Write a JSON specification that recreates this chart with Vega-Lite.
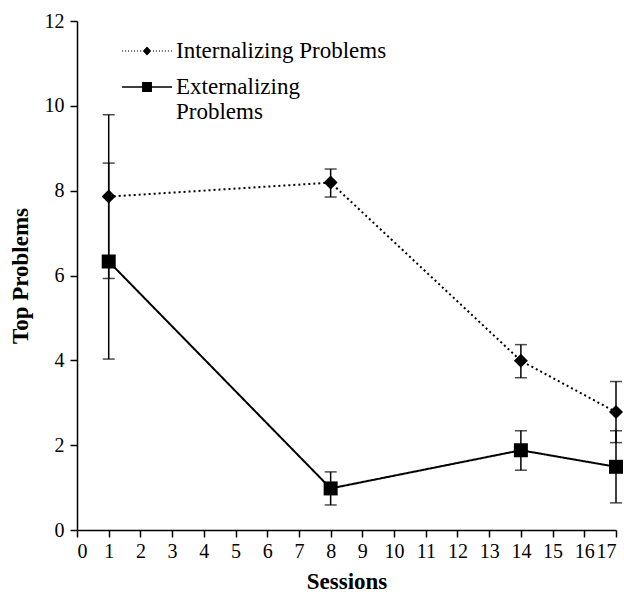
{
  "$schema": "https://vega.github.io/schema/vega-lite/v6.json",
  "width": 539,
  "height": 509,
  "autosize": {"type": "none"},
  "padding": {"left": 77, "top": 21, "right": 8, "bottom": 66},
  "background": "white",
  "config": {
    "view": {"stroke": null},
    "font": "Liberation Serif",
    "axis": {
      "grid": false,
      "domainColor": "black",
      "domainWidth": 1.5,
      "tickColor": "black",
      "tickWidth": 1.5,
      "tickSize": 7,
      "labelColor": "black",
      "labelFont": "Liberation Serif",
      "labelFontSize": 20,
      "labelOverlap": false,
      "titleColor": "black",
      "titleFont": "Liberation Serif",
      "titleFontSize": 23,
      "titleFontWeight": "bold"
    }
  },
  "data": {
    "values": [
      {"session": 1, "group": "Internalizing Problems", "mean": 7.86, "lo": 5.93, "hi": 9.79},
      {"session": 8, "group": "Internalizing Problems", "mean": 8.19, "lo": 7.85, "hi": 8.51},
      {"session": 14, "group": "Internalizing Problems", "mean": 3.99, "lo": 3.59, "hi": 4.37},
      {"session": 17, "group": "Internalizing Problems", "mean": 2.78, "lo": 2.06, "hi": 3.5},
      {"session": 1, "group": "Externalizing Problems", "mean": 6.33, "lo": 4.03, "hi": 8.65},
      {"session": 8, "group": "Externalizing Problems", "mean": 0.98, "lo": 0.59, "hi": 1.37},
      {"session": 14, "group": "Externalizing Problems", "mean": 1.88, "lo": 1.41, "hi": 2.34},
      {"session": 17, "group": "Externalizing Problems", "mean": 1.49, "lo": 0.64, "hi": 2.34}
    ]
  },
  "encoding": {
    "x": {"field": "session", "type": "quantitative", "title": "Sessions",
          "scale": {"domain": [0, 17], "nice": false},
          "axis": {"values": [0,1,2,3,4,5,6,7,8,9,10,11,12,13,14,15,16,17], "tickCount": 18, "format": "d", "labelPadding": 4, "titlePadding": 9}}
  },
  "layer": [
    {
      "mark": {"type": "line", "color": "black", "strokeWidth": 2},
      "encoding": {
        "y": {"field": "mean", "type": "quantitative", "title": "Top Problems",
              "scale": {"domain": [0, 12], "nice": false},
              "axis": {"values": [0,2,4,6,8,10,12], "tickCount": 7, "format": "d", "labelPadding": 6, "titlePadding": 12}},
        "detail": {"field": "group", "type": "nominal"},
        "strokeDash": {"condition": {"test": "datum.group == 'Internalizing Problems'", "value": [2, 3]}, "value": [1, 0]}
      }
    },
    {
      "mark": {"type": "rule", "color": "black", "strokeWidth": 1.5},
      "encoding": {
        "y": {"field": "lo", "type": "quantitative", "title": "Top Problems"},
        "y2": {"field": "hi"}
      }
    },
    {
      "mark": {"type": "tick", "color": "black", "thickness": 1.5, "size": 12, "orient": "horizontal"},
      "encoding": {
        "y": {"field": "lo", "type": "quantitative", "title": "Top Problems"}
      }
    },
    {
      "mark": {"type": "tick", "color": "black", "thickness": 1.5, "size": 12, "orient": "horizontal"},
      "encoding": {
        "y": {"field": "hi", "type": "quantitative", "title": "Top Problems"}
      }
    },
    {
      "mark": {"type": "point", "filled": true, "color": "black", "opacity": 1, "size": 196},
      "encoding": {
        "y": {"field": "mean", "type": "quantitative", "title": "Top Problems"},
        "shape": {"condition": {"test": "datum.group == 'Internalizing Problems'", "value": "diamond"}, "value": "square"}
      }
    },
    {
      "transform": [{"filter": "false"}],
      "mark": {"type": "point", "filled": true, "color": "black", "opacity": 1},
      "encoding": {
        "y": {"field": "mean", "type": "quantitative", "title": "Top Problems"},
        "shape": {"field": "group", "type": "nominal",
                  "scale": {"domain": ["Internalizing Problems", "Externalizing Problems"],
                            "range": [
                              "M-1.67,-0.04h0.08v0.08h-0.08Z M-1.47,-0.04h0.08v0.08h-0.08Z M-1.27,-0.04h0.08v0.08h-0.08Z M-1.07,-0.04h0.08v0.08h-0.08Z M-0.87,-0.04h0.08v0.08h-0.08Z M-0.67,-0.04h0.08v0.08h-0.08Z M-0.47,-0.04h0.08v0.08h-0.08Z M0.39,-0.04h0.08v0.08h-0.08Z M0.59,-0.04h0.08v0.08h-0.08Z M0.79,-0.04h0.08v0.08h-0.08Z M0.99,-0.04h0.08v0.08h-0.08Z M1.19,-0.04h0.08v0.08h-0.08Z M1.39,-0.04h0.08v0.08h-0.08Z M1.59,-0.04h0.08v0.08h-0.08Z M0,-0.3L0.28,0L0,0.3L-0.28,0Z",
                              "M-1.67,-0.05H1.67V0.05H-1.67Z M-0.33,-0.33L0.33,-0.33L0.33,0.33L-0.33,0.33Z"
                            ]},
                  "legend": {
                    "title": null,
                    "orient": "none",
                    "legendX": 54,
                    "legendY": 14,
                    "padding": 0,
                    "symbolSize": 900,
                    "labelFont": "Liberation Serif",
                    "labelFontSize": 23,
                    "labelColor": "black",
                    "labelOffset": 13,
                    "labelLimit": 400,
                    "rowPadding": 8,
                    "symbolFillColor": "black",
                    "symbolStrokeColor": "black",
                    "symbolOpacity": 1,
                    "labelExpr": "datum.label == 'Externalizing Problems' ? ['Externalizing', 'Problems'] : datum.label",
                    "encode": {"labels": {"lineHeight": {"value": 27}}}
                  }}
      }
    }
  ]
}
